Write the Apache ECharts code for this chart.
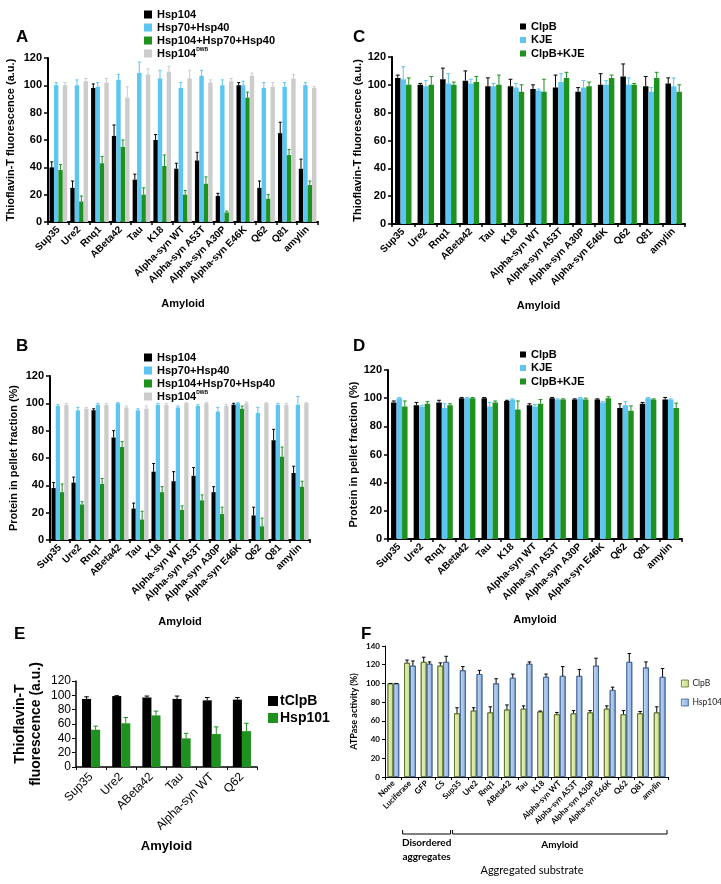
<!DOCTYPE html>
<html>
<head>
<meta charset="utf-8">
<script src="https://cdn.jsdelivr.net/npm/echarts@6/dist/echarts.min.js"></script>
<style>
  html, body { margin: 0; padding: 0; background: #fff; }
  #chart { width: 721px; height: 884px; }
</style>
</head>
<body>
<div id="chart"></div>
<script>
// categories
const amyloids = ['Sup35', 'Ure2', 'Rnq1', 'ABeta42', 'Tau', 'K18', 'Alpha-syn WT', 'Alpha-syn A53T',
  'Alpha-syn A30P', 'Alpha-syn E46K', 'Q62', 'Q81', 'amylin'];
const amyloidsE = ['Sup35', 'Ure2', 'ABeta42', 'Tau', 'Alpha-syn WT', 'Q62'];
const substratesF = ['None', 'Luciferase', 'GFP', 'CS', 'Sup35', 'Ure2', 'Rnq1', 'ABeta42', 'Tau', 'K18',
  'Alpha-syn WT', 'Alpha-syn A53T', 'Alpha-syn A30P', 'Alpha-syn E46K', 'Q62', 'Q81', 'amylin'];

// panel A - ThT fluorescence
const aHsp104 = [40, 25, 98, 63, 31, 60, 39, 45, 19, 100, 25, 65, 39];
const aHsp104Err = [4, 5, 3, 8, 4, 4, 4, 6, 2, 2, 5, 8, 7];
const aHsp7040 = [100, 100, 99, 104, 109, 105, 98, 107, 100, 100, 98, 99, 100];
const aHsp7040Err = [2, 4, 3, 4, 8, 6, 4, 4, 4, 3, 4, 3, 2];
const aAll = [38, 15, 43, 55, 20, 41, 20, 28, 7, 91, 17, 49, 27];
const aAllErr = [4, 4, 5, 5, 5, 8, 3, 5, 1, 4, 3, 4, 3];
const aDWB = [100, 103, 102, 91, 108, 110, 105, 102, 103, 107, 99, 105, 98];
const aDWBErr = [2, 2, 3, 8, 4, 4, 6, 2, 2, 2, 3, 3, 1];

// panel B - protein in pellet
const bHsp104 = [38, 42, 95, 75, 23, 50, 43, 47, 35, 99, 18, 73, 49];
const bHsp104Err = [4, 4, 1, 5, 4, 6, 7, 6, 4, 1, 6, 8, 5];
const bHsp7040 = [98, 95, 99, 100, 95, 99, 97, 98, 94, 100, 93, 99, 99];
const bHsp7040Err = [1, 2, 1, 0.5, 1, 1, 1, 1, 3, 0.5, 4, 1, 6];
const bAll = [35, 26, 41, 68, 15, 35, 22, 29, 19, 96, 10, 61, 39];
const bAllErr = [6, 2, 4, 4, 6, 4, 3, 4, 5, 2, 6, 7, 4];
const bDWB = [99, 96, 99, 97, 96, 99, 100, 100, 98, 100, 100, 99, 100];
const bDWBErr = [1, 1, 1, 1, 2, 1, 0.5, 0.5, 1, 1, 0.5, 1, 0.5];

// panel C - ThT with ClpB / KJE
const cClpB = [105, 100, 104, 103, 99, 99, 97, 98, 95, 100, 106, 99, 101];
const cClpBErr = [2, 1, 8, 7, 6, 5, 3, 9, 3, 8, 9, 7, 4];
const cKJE = [104, 99, 101, 101, 99, 98, 96, 102, 98, 100, 100, 95, 99];
const cKJEErr = [9, 4, 7, 3, 2, 3, 1, 6, 5, 3, 5, 3, 6];
const cBoth = [100, 100, 100, 102, 100, 95, 95, 105, 99, 105, 100, 105, 95];
const cBothErr = [5, 6, 2, 4, 7, 5, 9, 4, 3, 2, 1, 4, 5];

// panel D - pellet with ClpB / KJE
const dClpB = [97, 95, 97, 100, 100, 98, 95, 100, 99, 99, 93, 96, 99];
const dClpBErr = [1, 2, 1.5, 0.5, 0.5, 0.5, 1, 0.5, 0.5, 0.5, 3, 1, 1.5];
const dKJE = [100, 94, 93, 100, 94, 99, 94, 99, 100, 97, 95, 100, 99];
const dKJEErr = [0.5, 1, 3, 0.5, 3, 0.5, 1.5, 0.5, 0.5, 0.5, 2.5, 0.5, 0.5];
const dBoth = [94, 96, 95, 100, 97, 92, 96, 99, 99, 100, 91, 99, 93];
const dBothErr = [4, 1.5, 1, 0.5, 1, 6, 3, 0.5, 1, 1, 3.5, 0.5, 3.5];

// panel E - tClpB / Hsp101
const eTClpB = [95, 99, 97, 95, 93, 94];
const eTClpBErr = [3, 0.5, 2, 4, 4, 3];
const eHsp101 = [52, 61, 72, 40, 46, 50];
const eHsp101Err = [5, 8, 6, 7, 10, 11];

// panel F - ATPase activity
const fClpB = [100, 122, 123, 119, 68, 71, 69, 72, 73, 70, 67, 68, 69, 73, 67, 68, 69];
const fClpBErr = [0, 3, 5, 3, 6, 3, 6, 5, 3, 0.5, 2, 3, 2, 3, 4, 2, 6];
const fHsp104 = [100, 119, 121, 123, 114, 110, 100, 106, 121, 107, 108, 108, 119, 93, 123, 117, 107];
const fHsp104Err = [0, 5, 2, 6, 4, 4, 5, 4, 2, 3, 10, 7, 8, 3, 9, 6, 9];

const BLACK = '#000000';
const BLUE = '#5cc5f2';
const GREEN = '#1f911f';
const GRAY = '#cccccc';
const FONT = 'Liberation Sans';

const chart = echarts.init(document.getElementById('chart'));

// one-sided error bar (stem + cap) placed over the idx-th of n bars in a category
function errorBars(axis, idx, n, gap, vals, errs, color, capFrac) {
  return {
    type: 'custom',
    xAxisIndex: axis,
    yAxisIndex: axis,
    z: 5,
    silent: true,
    data: vals.map((v, i) => [i, v, errs[i]]),
    renderItem: (params, api) => {
      const x = api.value(0);
      const v = api.value(1);
      const e = api.value(2);
      const band = api.size([1, 0])[0];
      const bw = band * (1 - gap) / n;
      const base = api.coord([x, v]);
      const top = api.coord([x, v + e]);
      const cx = base[0] + (idx - (n - 1) / 2) * bw;
      const cap = bw * (capFrac || 0.35);
      return {
        type: 'group',
        children: [
          { type: 'line', shape: { x1: cx, y1: base[1], x2: cx, y2: top[1] }, style: { stroke: color, lineWidth: 1 } },
          { type: 'line', shape: { x1: cx - cap, y1: top[1], x2: cx + cap, y2: top[1] }, style: { stroke: color, lineWidth: 1 } }
        ]
      };
    }
  };
}

function bars(axis, name, vals, itemStyle, gap) {
  return {
    type: 'bar',
    name: name,
    xAxisIndex: axis,
    yAxisIndex: axis,
    barGap: '0%',
    barCategoryGap: (gap * 100) + '%',
    itemStyle: itemStyle,
    data: vals
  };
}

function legendItems(names, styles) {
  return names.map((n, i) => ({ name: n, itemStyle: styles[i] }));
}

// common axis style for panels A-D
function yAxisAD(grid, name, gap) {
  return {
    gridIndex: grid, type: 'value', min: 0, max: 120, interval: 20,
    name: name, nameLocation: 'middle', nameGap: gap,
    nameTextStyle: { fontFamily: FONT, fontWeight: 'bold', fontSize: 11, color: '#000' },
    axisLine: { show: true, lineStyle: { color: '#000', width: 2 } },
    axisTick: { show: true, length: 4, lineStyle: { color: '#000', width: 1.5 } },
    axisLabel: { fontFamily: FONT, fontWeight: 'bold', fontSize: 11, color: '#000', margin: 6 },
    splitLine: { show: false }
  };
}
function xAxisAD(grid, gap) {
  return {
    gridIndex: grid, type: 'category', data: amyloids,
    name: 'Amyloid', nameLocation: 'middle', nameGap: gap,
    nameTextStyle: { fontFamily: FONT, fontWeight: 'bold', fontSize: 11, color: '#000' },
    axisLine: { lineStyle: { color: '#000', width: 2 } },
    axisTick: { show: true, length: 3, lineStyle: { color: '#000', width: 1.5 } },
    axisLabel: { interval: 0, rotate: 45, fontFamily: FONT, fontWeight: 'bold', fontSize: 10, color: '#000', margin: 6 }
  };
}

const legendTextAD = {
  fontFamily: FONT, fontWeight: 'bold', fontSize: 11, color: '#000', lineHeight: 13,
  rich: { s: { fontFamily: FONT, fontWeight: 'bold', fontSize: 5, verticalAlign: 'top', lineHeight: 13, color: '#000' } }
};
const fmtDWB = name => (name === 'Hsp104DWB' ? 'Hsp104{s|DWB}' : name);

const gap4 = 0.15;
const gap3 = 0.27;
const gapE = 0.4;
const gapF = 0.3;

const hspNames = ['Hsp104', 'Hsp70+Hsp40', 'Hsp104+Hsp70+Hsp40', 'Hsp104DWB'];
const hspStyles = [{ color: BLACK }, { color: BLUE }, { color: GREEN }, { color: GRAY }];
const kjeNames = ['ClpB', 'KJE', 'ClpB+KJE'];
const kjeStyles = [{ color: BLACK }, { color: BLUE }, { color: GREEN }];

const clpBFill = new echarts.graphic.LinearGradient(0, 0, 1, 0, [
  { offset: 0, color: '#e9f3c2' }, { offset: 1, color: '#c8dd80' }]);
const hsp104Fill = new echarts.graphic.LinearGradient(0, 0, 1, 0, [
  { offset: 0, color: '#c9dbf3' }, { offset: 1, color: '#8aaee0' }]);
const fStyles = [
  { color: clpBFill, borderColor: '#5b6e2b', borderWidth: 0.8 },
  { color: hsp104Fill, borderColor: '#3c5f92', borderWidth: 0.8 }
];

const option = {
  animation: false,
  backgroundColor: '#fff',
  title: [
    { text: 'A', left: 11, top: 24 },
    { text: 'B', left: 11, top: 333 },
    { text: 'C', left: 348, top: 24 },
    { text: 'D', left: 348, top: 333 },
    { text: 'E', left: 9, top: 621 },
    { text: 'F', left: 356, top: 621 }
  ].map(t => Object.assign(t, { textStyle: { fontFamily: FONT, fontWeight: 'bold', fontSize: 17, color: '#000' } })),
  legend: [
    {
      left: 139, top: 3, orient: 'vertical', itemGap: 0, itemWidth: 8, itemHeight: 8, icon: 'rect',
      selectedMode: false, formatter: fmtDWB, textStyle: legendTextAD,
      data: legendItems(hspNames, hspStyles)
    },
    {
      left: 139, top: 346, orient: 'vertical', itemGap: 0, itemWidth: 8, itemHeight: 8, icon: 'rect',
      selectedMode: false, formatter: fmtDWB, textStyle: legendTextAD,
      data: legendItems(hspNames, hspStyles)
    },
    {
      left: 515, top: 15, orient: 'vertical', itemGap: 0.5, itemWidth: 6, itemHeight: 6, icon: 'rect',
      selectedMode: false, textStyle: legendTextAD,
      data: legendItems(kjeNames, kjeStyles)
    },
    {
      left: 515, top: 343, orient: 'vertical', itemGap: 0.5, itemWidth: 6, itemHeight: 6, icon: 'rect',
      selectedMode: false, textStyle: legendTextAD,
      data: legendItems(kjeNames, kjeStyles)
    },
    {
      left: 263, top: 689, orient: 'vertical', itemGap: 3, itemWidth: 10, itemHeight: 10, icon: 'rect',
      selectedMode: false,
      textStyle: { fontFamily: FONT, fontWeight: 'bold', fontSize: 14, color: '#000', padding: [0, 0, 0, -3] },
      data: legendItems(['tClpB', 'Hsp101'], [{ color: BLACK }, { color: GREEN }])
    },
    {
      left: 681, top: 679, padding: 0, orient: 'vertical', itemGap: 10, itemWidth: 7, itemHeight: 7, icon: 'rect',
      selectedMode: false,
      textStyle: { fontFamily: 'Lato', fontSize: 8.5, color: '#222', padding: [0, 0, 0, -1] },
      data: legendItems(['ClpB', 'Hsp104'], fStyles)
    }
  ],
  grid: [
    { left: 48, top: 58, width: 270, height: 164 },
    { left: 50, top: 376, width: 260, height: 164 },
    { left: 392, top: 57, width: 293, height: 167 },
    { left: 388, top: 370, width: 294, height: 169 },
    { left: 76, top: 681, width: 181, height: 86 },
    { left: 385, top: 646, width: 283, height: 131 }
  ],
  xAxis: [
    xAxisAD(0, 76),
    xAxisAD(1, 76),
    xAxisAD(2, 76),
    xAxisAD(3, 75),
    {
      gridIndex: 4, type: 'category', data: amyloidsE,
      name: 'Amyloid', nameLocation: 'middle', nameGap: 73,
      nameTextStyle: { fontFamily: FONT, fontWeight: 'bold', fontSize: 13, color: '#000' },
      axisLine: { lineStyle: { color: '#000', width: 1.5 } },
      axisTick: { show: true, length: 3, lineStyle: { color: '#000' } },
      axisLabel: { interval: 0, rotate: 45, fontFamily: FONT, fontSize: 12, color: '#000', margin: 8 }
    },
    {
      gridIndex: 5, type: 'category', data: substratesF,
      axisLine: { lineStyle: { color: '#000', width: 1 } },
      axisTick: { show: true, length: 3, lineStyle: { color: '#000' } },
      axisLabel: { interval: 0, rotate: 45, fontFamily: 'Lato', fontWeight: 'bold', fontSize: 8, color: '#000', margin: 5 }
    }
  ],
  yAxis: [
    yAxisAD(0, 'Thioflavin-T fluorescence (a.u.)', 32),
    yAxisAD(1, 'Protein in pellet fraction (%)', 31),
    yAxisAD(2, 'Thioflavin-T fluorescence (a.u.)', 26),
    yAxisAD(3, 'Protein in pellet fraction (%)', 28),
    {
      gridIndex: 4, type: 'value', min: 0, max: 120, interval: 20,
      name: 'Thioflavin-T\nfluorescence (a.u.)', nameLocation: 'middle', nameGap: 32,
      nameTextStyle: { fontFamily: FONT, fontWeight: 'bold', fontSize: 14, color: '#000', lineHeight: 16 },
      axisLine: { show: true, lineStyle: { color: '#000', width: 1.5 } },
      axisTick: { show: true, length: 4, lineStyle: { color: '#000' } },
      axisLabel: { fontFamily: FONT, fontSize: 12, color: '#000', margin: 5 },
      splitLine: { show: false }
    },
    {
      gridIndex: 5, type: 'value', min: 0, max: 140, interval: 20,
      name: 'ATPase activity (%)', nameLocation: 'middle', nameGap: 26,
      nameTextStyle: { fontFamily: 'Lato', fontWeight: 'bold', fontSize: 9, color: '#000' },
      axisLine: { show: true, lineStyle: { color: '#000', width: 1 } },
      axisTick: { show: true, length: 3, lineStyle: { color: '#000' } },
      axisLabel: { fontFamily: 'Lato', fontWeight: 'bold', fontSize: 8, color: '#000', margin: 5 },
      splitLine: { show: false }
    }
  ],
  series: [
    // A
    bars(0, 'Hsp104', aHsp104, { color: BLACK }, gap4),
    bars(0, 'Hsp70+Hsp40', aHsp7040, { color: BLUE }, gap4),
    bars(0, 'Hsp104+Hsp70+Hsp40', aAll, { color: GREEN }, gap4),
    bars(0, 'Hsp104DWB', aDWB, { color: GRAY }, gap4),
    errorBars(0, 0, 4, gap4, aHsp104, aHsp104Err, BLACK),
    errorBars(0, 1, 4, gap4, aHsp7040, aHsp7040Err, BLUE),
    errorBars(0, 2, 4, gap4, aAll, aAllErr, GREEN),
    errorBars(0, 3, 4, gap4, aDWB, aDWBErr, GRAY),
    // B
    bars(1, 'Hsp104', bHsp104, { color: BLACK }, gap4),
    bars(1, 'Hsp70+Hsp40', bHsp7040, { color: BLUE }, gap4),
    bars(1, 'Hsp104+Hsp70+Hsp40', bAll, { color: GREEN }, gap4),
    bars(1, 'Hsp104DWB', bDWB, { color: GRAY }, gap4),
    errorBars(1, 0, 4, gap4, bHsp104, bHsp104Err, BLACK),
    errorBars(1, 1, 4, gap4, bHsp7040, bHsp7040Err, BLUE),
    errorBars(1, 2, 4, gap4, bAll, bAllErr, GREEN),
    errorBars(1, 3, 4, gap4, bDWB, bDWBErr, GRAY),
    // C
    bars(2, 'ClpB', cClpB, { color: BLACK }, gap3),
    bars(2, 'KJE', cKJE, { color: BLUE }, gap3),
    bars(2, 'ClpB+KJE', cBoth, { color: GREEN }, gap3),
    errorBars(2, 0, 3, gap3, cClpB, cClpBErr, BLACK),
    errorBars(2, 1, 3, gap3, cKJE, cKJEErr, BLUE),
    errorBars(2, 2, 3, gap3, cBoth, cBothErr, GREEN),
    // D
    bars(3, 'ClpB', dClpB, { color: BLACK }, gap3),
    bars(3, 'KJE', dKJE, { color: BLUE }, gap3),
    bars(3, 'ClpB+KJE', dBoth, { color: GREEN }, gap3),
    errorBars(3, 0, 3, gap3, dClpB, dClpBErr, BLACK),
    errorBars(3, 1, 3, gap3, dKJE, dKJEErr, BLUE),
    errorBars(3, 2, 3, gap3, dBoth, dBothErr, GREEN),
    // E
    bars(4, 'tClpB', eTClpB, { color: BLACK }, gapE),
    bars(4, 'Hsp101', eHsp101, { color: GREEN }, gapE),
    errorBars(4, 0, 2, gapE, eTClpB, eTClpBErr, BLACK, 0.25),
    errorBars(4, 1, 2, gapE, eHsp101, eHsp101Err, GREEN, 0.25),
    // F
    bars(5, 'ClpB', fClpB, fStyles[0], gapF),
    bars(5, 'Hsp104', fHsp104, fStyles[1], gapF),
    errorBars(5, 0, 2, gapF, fClpB, fClpBErr, BLACK, 0.3),
    errorBars(5, 1, 2, gapF, fHsp104, fHsp104Err, BLACK, 0.3)
  ]
};

chart.setOption(option);

// brackets under panel F, aligned to the category bands
const cx = i => chart.convertToPixel({ xAxisIndex: 5 }, i);
const band = cx(1) - cx(0);
const yBr = 834;
function bracket(from, to) {
  const x1 = cx(from) - band / 2 + 1;
  const x2 = cx(to) + band / 2 - 1;
  return {
    type: 'polyline',
    shape: { points: [[x1, yBr - 4], [x1, yBr], [x2, yBr], [x2, yBr - 4]] },
    style: { stroke: '#000', lineWidth: 1, fill: null }
  };
}
const mid = (a, b) => (cx(a) + cx(b)) / 2;
const labelStyle = (text, x, y, bold, size) => ({
  type: 'text', x: x, y: y,
  style: { text: text, fontFamily: 'Lato', fontWeight: bold ? 'bold' : 'normal', fontSize: size,
    fill: '#000', align: 'center', verticalAlign: 'middle', lineHeight: 14 }
});

chart.setOption({
  graphic: [
    bracket(1, 3),
    bracket(4, 16),
    labelStyle('Disordered\naggregates', mid(1, 3), 850, true, 10),
    labelStyle('Amyloid', mid(4, 16), 845, true, 10),
    labelStyle('Aggregated substrate', 532, 870, false, 11)
  ]
});

window.addEventListener('resize', () => {
  chart.resize();
});
</script>
</body>
</html>
